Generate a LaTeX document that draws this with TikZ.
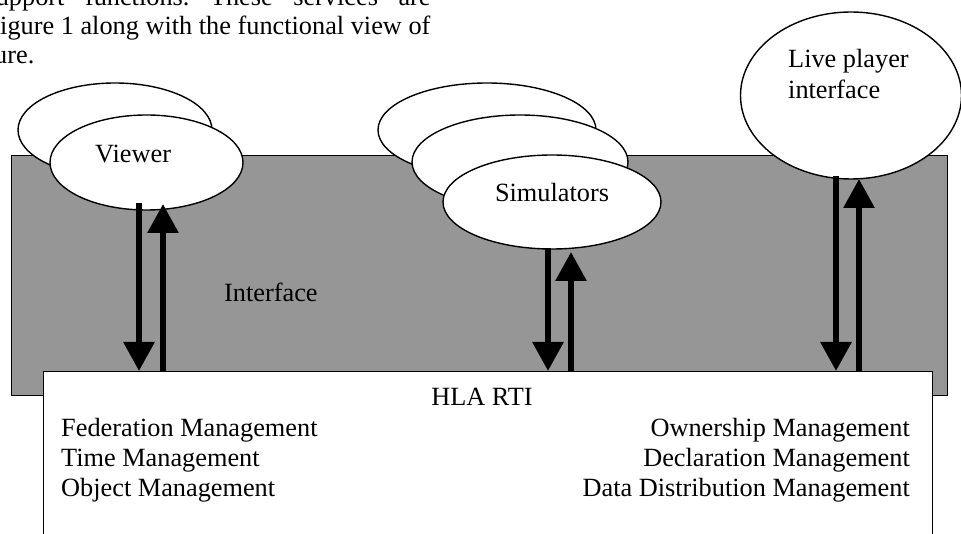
\documentclass[tikz,border=0pt]{standalone}
\usepackage{fontspec}
\setmainfont{Liberation Serif}
\usetikzlibrary{shapes.geometric,arrows.meta}
\definecolor{ifacegray}{RGB}{150,150,150}
\tikzset{
  ell/.style={ellipse, draw=black, line width=1.4pt, fill=white, inner sep=0pt},
  panel/.style={draw=black, line width=1.4pt, inner sep=0pt, anchor=north west},
  arr/.style={line width=6pt, -{Triangle[width=30pt,length=29pt]}},
  txt/.style={inner sep=0pt, font=\fontsize{26.3}{30}\selectfont},
}
\begin{document}
\begin{tikzpicture}[x=1pt,y=-1pt]
\useasboundingbox (0,0) rectangle (961,534);
% paragraph text fragments
\node[txt, anchor=base west] (p1a) at (-4.4,6) {upport};
\node[txt, anchor=base west] (p1b) at (84.8,6) {functions.};
\node[txt, anchor=base west] (p1c) at (209.8,6) {These};
\node[txt, anchor=base west] (p1d) at (293.1,6) {services};
\node[txt, anchor=base west] (p1e) at (398.3,6) {are};
\node[txt, anchor=base west] (p2) at (0,35) {igure 1 along with the functional view of};
\node[txt, anchor=base west] (p3) at (-6,64) {ure.};
% interface panel and RTI box
\node[panel, fill=ifacegray, minimum width=936pt, minimum height=240pt] (iface) at (11,155) {};
\node[panel, fill=white, minimum width=889.3pt, minimum height=200pt] (rti) at (42.7,371) {};
% ellipses
\node[ell, minimum width=194pt, minimum height=94pt] (vback) at (115,130) {};
\node[ell, minimum width=193pt, minimum height=95pt] (viewer) at (146.5,162.5) {};
\node[ell, minimum width=218pt, minimum height=94pt] (sback) at (487,130) {};
\node[ell, minimum width=216pt, minimum height=94pt] (smid) at (520,162) {};
\node[ell, minimum width=218pt, minimum height=94pt] (sim) at (552,202) {};
\node[ell, minimum width=221pt, minimum height=167pt] (live) at (851,95.5) {};
% arrow end points
\coordinate (v1s) at (139,203); \coordinate (v1e) at (139,371);
\coordinate (v2s) at (163,371); \coordinate (v2e) at (163,204);
\coordinate (s1s) at (548,248); \coordinate (s1e) at (548,371);
\coordinate (s2s) at (571,371); \coordinate (s2e) at (571,252);
\coordinate (l1s) at (836,176); \coordinate (l1e) at (836,371);
\coordinate (l2s) at (859,371); \coordinate (l2e) at (859,179);
\draw[arr] (v1s) -- (v1e);
\draw[arr] (v2s) -- (v2e);
\draw[arr] (s1s) -- (s1e);
\draw[arr] (s2s) -- (s2e);
\draw[arr] (l1s) -- (l1e);
\draw[arr] (l2s) -- (l2e);
% labels
\node[txt, anchor=base west] (tviewer) at (95,163) {Viewer};
\node[txt, anchor=base] (tsim) at (552,202) {Simulators};
\node[txt, anchor=base west, align=left] (tlive1) at (788,68) {Live player};
\node[txt, anchor=base west] (tlive2) at (788,99) {interface};
\node[txt, anchor=base west] (tiface) at (224,302) {Interface};
\node[txt, anchor=base] (thla) at (482,406) {HLA RTI};
\node[txt, anchor=base west] (tfed) at (61,436) {Federation Management};
\node[txt, anchor=base west] (ttime) at (61,466) {Time Management};
\node[txt, anchor=base west] (tobj) at (61,496) {Object Management};
\node[txt, anchor=base east] (town) at (910,436) {Ownership Management};
\node[txt, anchor=base east] (tdecl) at (910,466) {Declaration Management};
\node[txt, anchor=base east] (tddm) at (910,496) {Data Distribution Management};
\end{tikzpicture}
\end{document}
